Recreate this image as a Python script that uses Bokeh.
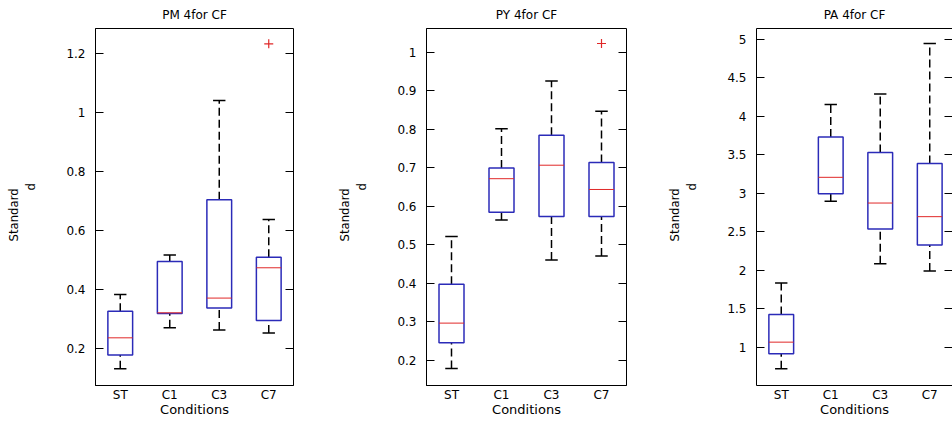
from bokeh.plotting import figure
from bokeh.layouts import row
from bokeh.models import FixedTicker, LinearAxis, Range1d, Title
from bokeh.embed import file_html
from bokeh.resources import INLINE

categories = ["ST", "C1", "C3", "C7"]

# PM 4for CF
pm_lower = [0.130, 0.269, 0.262, 0.251]
pm_q1 = [0.177, 0.318, 0.336, 0.294]
pm_median = [0.235, 0.320, 0.370, 0.473]
pm_q3 = [0.325, 0.494, 0.704, 0.509]
pm_upper = [0.382, 0.516, 1.041, 0.637]
pm_outlier_cat = ["C7"]
pm_outlier_val = [1.234]
pm_ticks = [0.2, 0.4, 0.6, 0.8, 1.0, 1.2]
pm_tick_labels = ["0.2", "0.4", "0.6", "0.8", "1", "1.2"]

# PY 4for CF
py_lower = [0.179, 0.565, 0.461, 0.471]
py_q1 = [0.246, 0.585, 0.574, 0.574]
py_median = [0.297, 0.672, 0.707, 0.644]
py_q3 = [0.398, 0.700, 0.785, 0.714]
py_upper = [0.522, 0.802, 0.926, 0.847]
py_outlier_cat = ["C7"]
py_outlier_val = [1.023]
py_ticks = [0.2, 0.3, 0.4, 0.5, 0.6, 0.7, 0.8, 0.9, 1.0]
py_tick_labels = ["0.2", "0.3", "0.4", "0.5", "0.6", "0.7", "0.8", "0.9", "1"]

# PA 4for CF
pa_lower = [0.718, 2.894, 2.083, 1.988]
pa_q1 = [0.913, 2.994, 2.534, 2.326]
pa_median = [1.065, 3.206, 2.872, 2.695]
pa_q3 = [1.425, 3.730, 3.527, 3.384]
pa_upper = [1.832, 4.151, 4.289, 4.944]
pa_outlier_cat = []
pa_outlier_val = []
pa_ticks = [1.0, 1.5, 2.0, 2.5, 3.0, 3.5, 4.0, 4.5, 5.0]
pa_tick_labels = ["1", "1.5", "2", "2.5", "3", "3.5", "4", "4.5", "5"]

titles = ["PM 4for CF", "PY 4for CF", "PA 4for CF"]
x_label = "Conditions"
y_label = "Standard"
y_sub = "d"

BOX_COLOR = "#2b2bb8"
MED_COLOR = "#e02828"
FONT = "DejaVu Sans"
NARROW = "'DejaVu Sans Condensed', 'Liberation Sans', sans-serif"
FRAME_TOP = 28
FRAME_H = 357
H = 421


def panel(title, lower, q1, med, q3, upper, ocat, oval, ticks, tlabels, yr,
          width, bl, br, xend, right_frame=True):
    xs = [categories.index(c) + 1 for c in categories]
    p = figure(width=width, height=H, x_range=Range1d(0.5, xend),
               y_range=Range1d(*yr), output_backend="svg",
               toolbar_location=None, min_border_left=bl,
               min_border_right=br, min_border_top=FRAME_TOP,
               min_border_bottom=H - FRAME_TOP - FRAME_H,
               background_fill_color="white", border_fill_color="white")
    p.title.text = title
    p.title.align = "center"
    p.title.vertical_align = "middle"
    p.title.text_font = FONT
    p.title.text_font_size = "12px"
    p.title.text_font_style = "normal"
    p.title.text_color = "black"
    p.title.standoff = 11
    p.grid.visible = False

    xa = p.below[0]
    ya = p.left[0]

    if right_frame:
        p.outline_line_color = "black"
        p.outline_line_width = 1
    else:
        p.outline_line_color = None
        top = LinearAxis(ticker=FixedTicker(ticks=[]), major_tick_in=0,
                         major_tick_out=0, minor_tick_in=0, minor_tick_out=0,
                         axis_line_color="black",
                         major_label_text_font_size="0px")
        p.add_layout(top, "above")

    w = 0.5
    cap = 0.25
    # whiskers
    p.segment(x0=xs, y0=q3, x1=xs, y1=upper, line_color="black",
              line_width=1.5, line_dash="8 4")
    p.segment(x0=xs, y0=lower, x1=xs, y1=q1, line_color="black",
              line_width=1.5, line_dash="8 4")
    # caps
    p.segment(x0=[x - cap / 2 for x in xs], y0=upper,
              x1=[x + cap / 2 for x in xs], y1=upper,
              line_color="black", line_width=1.5)
    p.segment(x0=[x - cap / 2 for x in xs], y0=lower,
              x1=[x + cap / 2 for x in xs], y1=lower,
              line_color="black", line_width=1.5)
    # boxes
    p.vbar(x=xs, width=w, bottom=q1, top=q3, fill_color="white",
           line_color=BOX_COLOR, line_width=1.5)
    # medians
    p.segment(x0=[x - w / 2 for x in xs], y0=med,
              x1=[x + w / 2 for x in xs], y1=med,
              line_color=MED_COLOR, line_width=1)
    # outliers
    if oval:
        ox = [categories.index(c) + 1 for c in ocat]
        p.scatter(x=ox, y=oval, marker="cross", size=9, line_color=MED_COLOR,
                  line_width=1.2)

    # x axis
    xa.ticker = FixedTicker(ticks=xs)
    xa.major_label_overrides = {x: c for x, c in zip(xs, categories)}
    xa.major_tick_in = 0
    xa.major_tick_out = 0
    xa.minor_tick_in = 0
    xa.minor_tick_out = 0
    xa.major_label_standoff = 2
    xa.major_label_text_font = FONT
    xa.major_label_text_font_size = "12px"
    xa.major_label_text_color = "black"
    xa.axis_label = x_label
    xa.axis_label_text_font = FONT
    xa.axis_label_text_font_size = "13px"
    xa.axis_label_text_font_style = "normal"
    xa.axis_label_text_color = "black"
    xa.axis_label_standoff = -3
    xa.axis_line_color = "black"

    # y axis
    ya.ticker = FixedTicker(ticks=ticks)
    ya.major_label_overrides = {t: l for t, l in zip(ticks, tlabels)}
    ya.major_tick_in = 8
    ya.major_tick_out = 0
    ya.minor_tick_in = 0
    ya.minor_tick_out = 0
    ya.major_label_standoff = 10
    ya.major_label_text_font = FONT
    ya.major_label_text_font_size = "12px"
    ya.major_label_text_color = "black"
    ya.axis_line_color = "black"
    # spacer between tick labels and the y label
    ya.axis_label = " "
    ya.axis_label_text_font_size = "1px"
    ya.axis_label_standoff = 22

    ra = LinearAxis(ticker=FixedTicker(ticks=ticks), major_tick_in=8,
                    major_tick_out=0, minor_tick_in=0, minor_tick_out=0,
                    axis_line_color=None,
                    major_label_overrides={t: "" for t in ticks},
                    major_label_standoff=0,
                    major_label_text_font_size="0px")
    p.add_layout(ra, "right")

    p.add_layout(Title(text=y_sub, align="left", offset=195, standoff=0,
                       text_font=NARROW, text_font_size="13px",
                       text_color="black", text_font_style="normal"), "left")
    p.add_layout(Title(text=y_label, align="left", offset=144, standoff=0,
                       text_font=NARROW, text_font_size="13px",
                       text_color="black", text_font_style="normal"), "left")
    return p


p1 = panel(titles[0], pm_lower, pm_q1, pm_median, pm_q3, pm_upper,
           pm_outlier_cat, pm_outlier_val, pm_ticks, pm_tick_labels,
           (0.073, 1.286), 330, 95, 37, 4.5)
p2 = panel(titles[1], py_lower, py_q1, py_median, py_q3, py_upper,
           py_outlier_cat, py_outlier_val, py_ticks, py_tick_labels,
           (0.135, 1.062), 330, 96, 34, 4.5)
p3 = panel(titles[2], pa_lower, pa_q1, pa_median, pa_q3, pa_upper,
           pa_outlier_cat, pa_outlier_val, pa_ticks, pa_tick_labels,
           (0.502, 5.139), 292, 96, 0, 4.46, right_frame=False)

layout = row(p1, p2, p3)
open("out.html", "w").write(file_html(layout, INLINE))
